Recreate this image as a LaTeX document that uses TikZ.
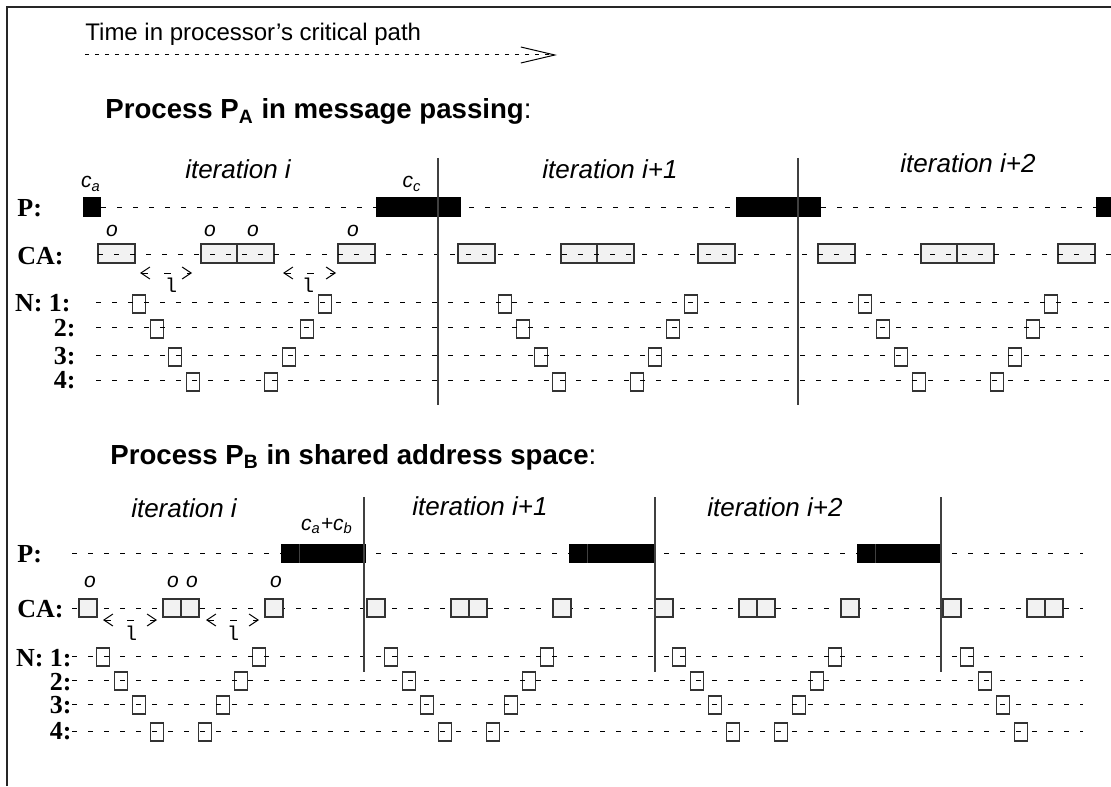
\documentclass[tikz,border=0pt]{standalone}
\usepackage{fontspec}
\setmainfont{Liberation Serif}
\setsansfont{Liberation Sans}
\setmonofont{Liberation Mono}
\usetikzlibrary{arrows.meta}

\begin{document}
\begin{tikzpicture}[x=0.5pt,y=-0.5pt,
  row/.style={dash pattern=on 2.5pt off 5.5pt,line width=0.5pt},
  cabox/.style={draw=black!80,fill=black!5,line width=0.7pt},
  nbox/.style={draw=black!80,line width=0.7pt},
  sep/.style={black!75,line width=1pt},
  lbl/.style={font=\bfseries\fontsize{13}{15}\selectfont,inner sep=0pt},
  iter/.style={font=\sffamily\itshape\fontsize{13}{15}\selectfont,inner sep=0pt,anchor=base},
  small/.style={font=\sffamily\itshape\fontsize{10.5}{12}\selectfont,inner sep=0pt},
  head/.style={anchor=base west,inner sep=0pt,font=\sffamily\bfseries\fontsize{13.8}{16}\selectfont},
  mono/.style={font=\ttfamily\fontsize{10}{12}\selectfont,inner sep=0pt},
  lat/.style={dash pattern=on 3.5pt off 8pt,line width=0.5pt,
    {Straight Barb[length=4.5pt,width=6pt]}-{Straight Barb[length=4.5pt,width=6pt]}}
]
\useasboundingbox (0,0) rectangle (1111,786);
\draw[line width=1pt,black!85] (7,786) -- (7,7) -- (1111,7);

% time axis
\node[anchor=base west,inner sep=0pt,font=\sffamily\fontsize{12}{14}\selectfont] (time) at (85,41) {Time in processor's critical path};
\draw[dash pattern=on 2pt off 3pt,line width=0.5pt,-{Straight Barb[length=17pt,width=8pt]}] (85,55) -- (557,55);

%%%%% process A
\node[head] (headA) at (105,119) {Process P\textsubscript{A} in message passing{\mdseries:}};

\node[iter] (itA1) at (238,178) {iteration i};
\node[iter] (itA2) at (610,178) {iteration i+1};
\node[iter] (itA3) at (968,172) {iteration i+2};

\node[lbl,anchor=west] (PA) at (17,208) {P:};
\node[lbl,anchor=west] (CAA) at (17,256) {CA:};
\node[lbl,anchor=east] (NA1) at (71,303) {N: 1:};
\node[lbl,anchor=east] (NA2) at (76,328) {2:};
\node[lbl,anchor=east] (NA3) at (76,356) {3:};
\node[lbl,anchor=east] (NA4) at (76,380) {4:};

% CA boxes, line drawn over them
\foreach \s in {0,360,720}
  \foreach \a in {98,201,237,338}
    \draw[cabox] (\a+\s,244) rectangle ++(37,19);
\draw[row] (98,254) -- (1111,254);

% N boxes
\foreach \b in {139,505,865}
  \foreach \k/\y in {0/302,1/327,2/355,3/380}{
    \draw[nbox] (\b+18*\k-6.5,\y-7) rectangle ++(13,18);
    \draw[nbox] (\b+186-18*\k-6.5,\y-7) rectangle ++(13,18);
  }
\foreach \y in {302,327,355,380}
  \draw[row] (96,\y) -- (1111,\y);

% P row
\draw[row] (101,207) -- (1111,207);
\fill (83,197) rectangle (101,217);
\foreach \s in {0,360,720}
  \fill (376+\s,197) rectangle ++(85,20);

\node[small] (ca) at (91,184) {c\textsubscript{a}};
\node[small] (cc) at (412,184) {c\textsubscript{c}};
\node[small] (oA1) at (112,231) {o};
\node[small] (oA2) at (210,231) {o};
\node[small] (oA3) at (253,231) {o};
\node[small] (oA4) at (353,231) {o};

\draw[lat] (140,273) -- (192,273);
\node[mono] (lA1) at (171,285) {l};
\draw[lat] (283,273) -- (336,273);
\node[mono] (lA2) at (308,285) {l};

\draw[sep] (438,158) -- (438,405);
\draw[sep] (798,158) -- (798,405);

%%%%% process B
\node[head] (headB) at (110,464) {Process P\textsubscript{B} in shared address space{\mdseries:}};

\node[iter] (itB1) at (184,517) {iteration i};
\node[iter] (itB2) at (480,515) {iteration i+1};
\node[iter] (itB3) at (775,516) {iteration i+2};

\node[lbl,anchor=west] (PB) at (17,554) {P:};
\node[lbl,anchor=west] (CAB) at (17,609) {CA:};
\node[lbl,anchor=east] (NB1) at (72,658) {N: 1:};
\node[lbl,anchor=east] (NB2) at (72,682) {2:};
\node[lbl,anchor=east] (NB3) at (72,705) {3:};
\node[lbl,anchor=east] (NB4) at (72,731) {4:};

% CA boxes over the line
\draw[row] (72,608) -- (1083,608);
\foreach \s in {0,288,576}
  \foreach \a in {79,163,181,265}
    \draw[cabox] (\a+\s,599) rectangle ++(18,18);
\foreach \a in {943,1027,1045}
  \draw[cabox] (\a,599) rectangle ++(18,18);

% N boxes
\foreach \b in {103,391,679}
  \foreach \k/\y in {0/656,1/680,2/704,3/731}{
    \draw[nbox] (\b+18*\k-6.5,\y-8) rectangle ++(13,18);
    \draw[nbox] (\b+156-18*\k-6.5,\y-8) rectangle ++(13,18);
  }
\foreach \k/\y in {0/656,1/680,2/704,3/731}
  \draw[nbox] (967+18*\k-6.5,\y-8) rectangle ++(13,18);
\foreach \y in {656,680,704,731}
  \draw[row] (72,\y) -- (1083,\y);

% P row
\draw[row] (72,553) -- (1083,553);
\foreach \s in {0,288,576}{
  \fill (281+\s,544) rectangle ++(85,19);
  \draw[black!75,line width=0.3pt] (299+\s,544) -- ++(0,19);
}

\node[small] (cab) at (327,526) {c\textsubscript{a}+c\textsubscript{b}};
\node[small] (oB1) at (90,582) {o};
\node[small] (oB2) at (173,582) {o};
\node[small] (oB3) at (192,582) {o};
\node[small] (oB4) at (276,582) {o};

\draw[lat] (103,620) -- (157,620);
\node[mono] (lB1) at (131,633) {l};
\draw[lat] (206,620) -- (259,620);
\node[mono] (lB2) at (233,633) {l};

\draw[sep] (364,497) -- (364,672);
\draw[sep] (655,497) -- (655,672);
\draw[sep] (941,497) -- (941,672);
\end{tikzpicture}
\end{document}
